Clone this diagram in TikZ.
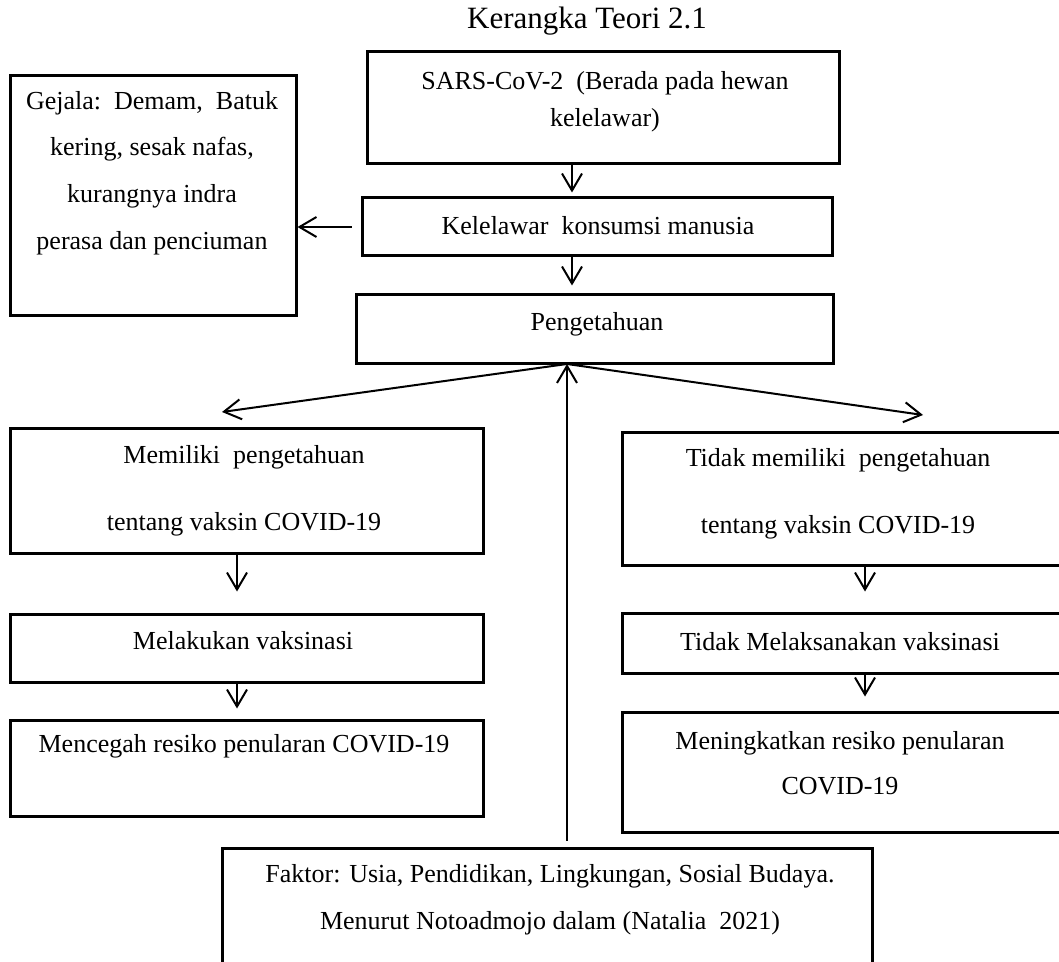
\documentclass[tikz,border=0pt]{standalone}
\usepackage{fontspec}
\setmainfont{Liberation Serif}
\usepackage{tikz}
\usetikzlibrary{arrows.meta}

\begin{document}
\begin{tikzpicture}[x=0.5pt, y=-0.5pt,
    box/.style={draw, line width=1.5pt, inner sep=0pt},
    txt/.style={align=center, inner sep=0pt, font=\fontsize{13}{23}\selectfont},
    arr/.style={line width=1pt, -{Straight Barb[length=8.5pt, width=10pt]}}]
    \useasboundingbox (0,0) rectangle (1059,962);
    \clip (0,0) rectangle (1059,962);
    \node[font=\fontsize{15.5}{18}\selectfont] (title) at (587,21) {Kerangka Teori 2.1};
    \node[box, minimum width=236pt, minimum height=56pt] (sars) at (603,108) {};
    \node[box, minimum width=143pt, minimum height=120pt] (gejala) at (153,196) {};
    \node[box, minimum width=235pt, minimum height=29pt] (kelelawar) at (597,227) {};
    \node[box, minimum width=238.5pt, minimum height=34.5pt] (pengetahuan) at (594.5,329.5) {};
    \node[box, minimum width=236.5pt, minimum height=62.5pt] (memiliki) at (246.5,490.5) {};
    \node[box, minimum width=236.5pt, minimum height=34pt] (melakukan) at (246.5,648) {};
    \node[box, minimum width=236.5pt, minimum height=48pt] (mencegah) at (246.5,768) {};
    \node[box, minimum width=220pt, minimum height=66.5pt] (tidak) at (842,498.5) {};
    \node[box, minimum width=220pt, minimum height=30pt] (tidakMel) at (842,643) {};
    \node[box, minimum width=220pt, minimum height=60pt] (meningkatkan) at (842,772) {};
    \node[box, minimum width=325pt, minimum height=63.5pt] (faktor) at (547,911.5) {};
    % texts
    \node[txt, font=\fontsize{13}{18.5}\selectfont] (sarsText) at (605,102) {SARS-CoV-2\ \ (Berada pada hewan\\kelelawar)};
    \node[txt, font=\fontsize{13}{23.3}\selectfont] (gejalaText) at (152,173) {Gejala:\ \ Demam,\ \ Batuk\\kering, sesak nafas,\\kurangnya indra\\perasa dan penciuman};
    \node[txt] (kelelawarText) at (598,226) {Kelelawar\ \ konsumsi manusia};
    \node[txt] (pengetahuanText) at (597,324) {Pengetahuan};
    \node[txt, font=\fontsize{13}{33.5}\selectfont] (memilikiText) at (244,490.5) {Memiliki\ \ pengetahuan\\tentang vaksin COVID-19};
    \node[txt] (melakukanText) at (243,641) {Melakukan vaksinasi};
    \node[txt] (mencegahText) at (244,746) {Mencegah resiko penularan COVID-19};
    \node[txt, font=\fontsize{13}{33.5}\selectfont] (tidakText) at (838,494) {Tidak memiliki\ \ pengetahuan\\tentang vaksin COVID-19};
    \node[txt] (tidakMelText) at (840,642) {Tidak Melaksanakan vaksinasi};
    \node[txt, font=\fontsize{13}{22.5}\selectfont] (meningkatkanText) at (840,763.5) {Meningkatkan resiko penularan\\COVID-19};
    \node[txt, font=\fontsize{13}{23.5}\selectfont] (faktorText) at (550,900) {Faktor: Usia, Pendidikan, Lingkungan, Sosial Budaya.\\Menurut Notoadmojo dalam (Natalia\ \ 2021)};
    % arrows
    \coordinate (spine) at (572,0);
    \coordinate (hub) at (567,364);
    \coordinate (tipL) at (222,412);
    \coordinate (tipR) at (923,415);
    \coordinate (colL) at (237,0);
    \coordinate (colR) at (865,0);
    \draw[arr, shorten >=2pt] (sars.south -| spine) -- (kelelawar.north -| spine);
    \draw[arr, shorten >=4pt] (kelelawar.south -| spine) -- (pengetahuan.north -| spine);
    \draw[arr, shorten <=4.5pt] (kelelawar.west) -- (kelelawar.west -| gejala.east);
    \draw[arr] (hub) -- (tipL);
    \draw[arr] (hub) -- (tipR);
    \draw[arr, shorten <=3pt] (faktor.north -| hub) -- (hub);
    \draw[arr, shorten >=10.5pt] (memiliki.south -| colL) -- (melakukan.north -| colL);
    \draw[arr, shorten >=5pt] (melakukan.south -| colL) -- (mencegah.north -| colL);
    \draw[arr, shorten >=10pt] (tidak.south -| colR) -- (tidakMel.north -| colR);
    \draw[arr, shorten >=7pt] (tidakMel.south -| colR) -- (meningkatkan.north -| colR);
\end{tikzpicture}
\end{document}
